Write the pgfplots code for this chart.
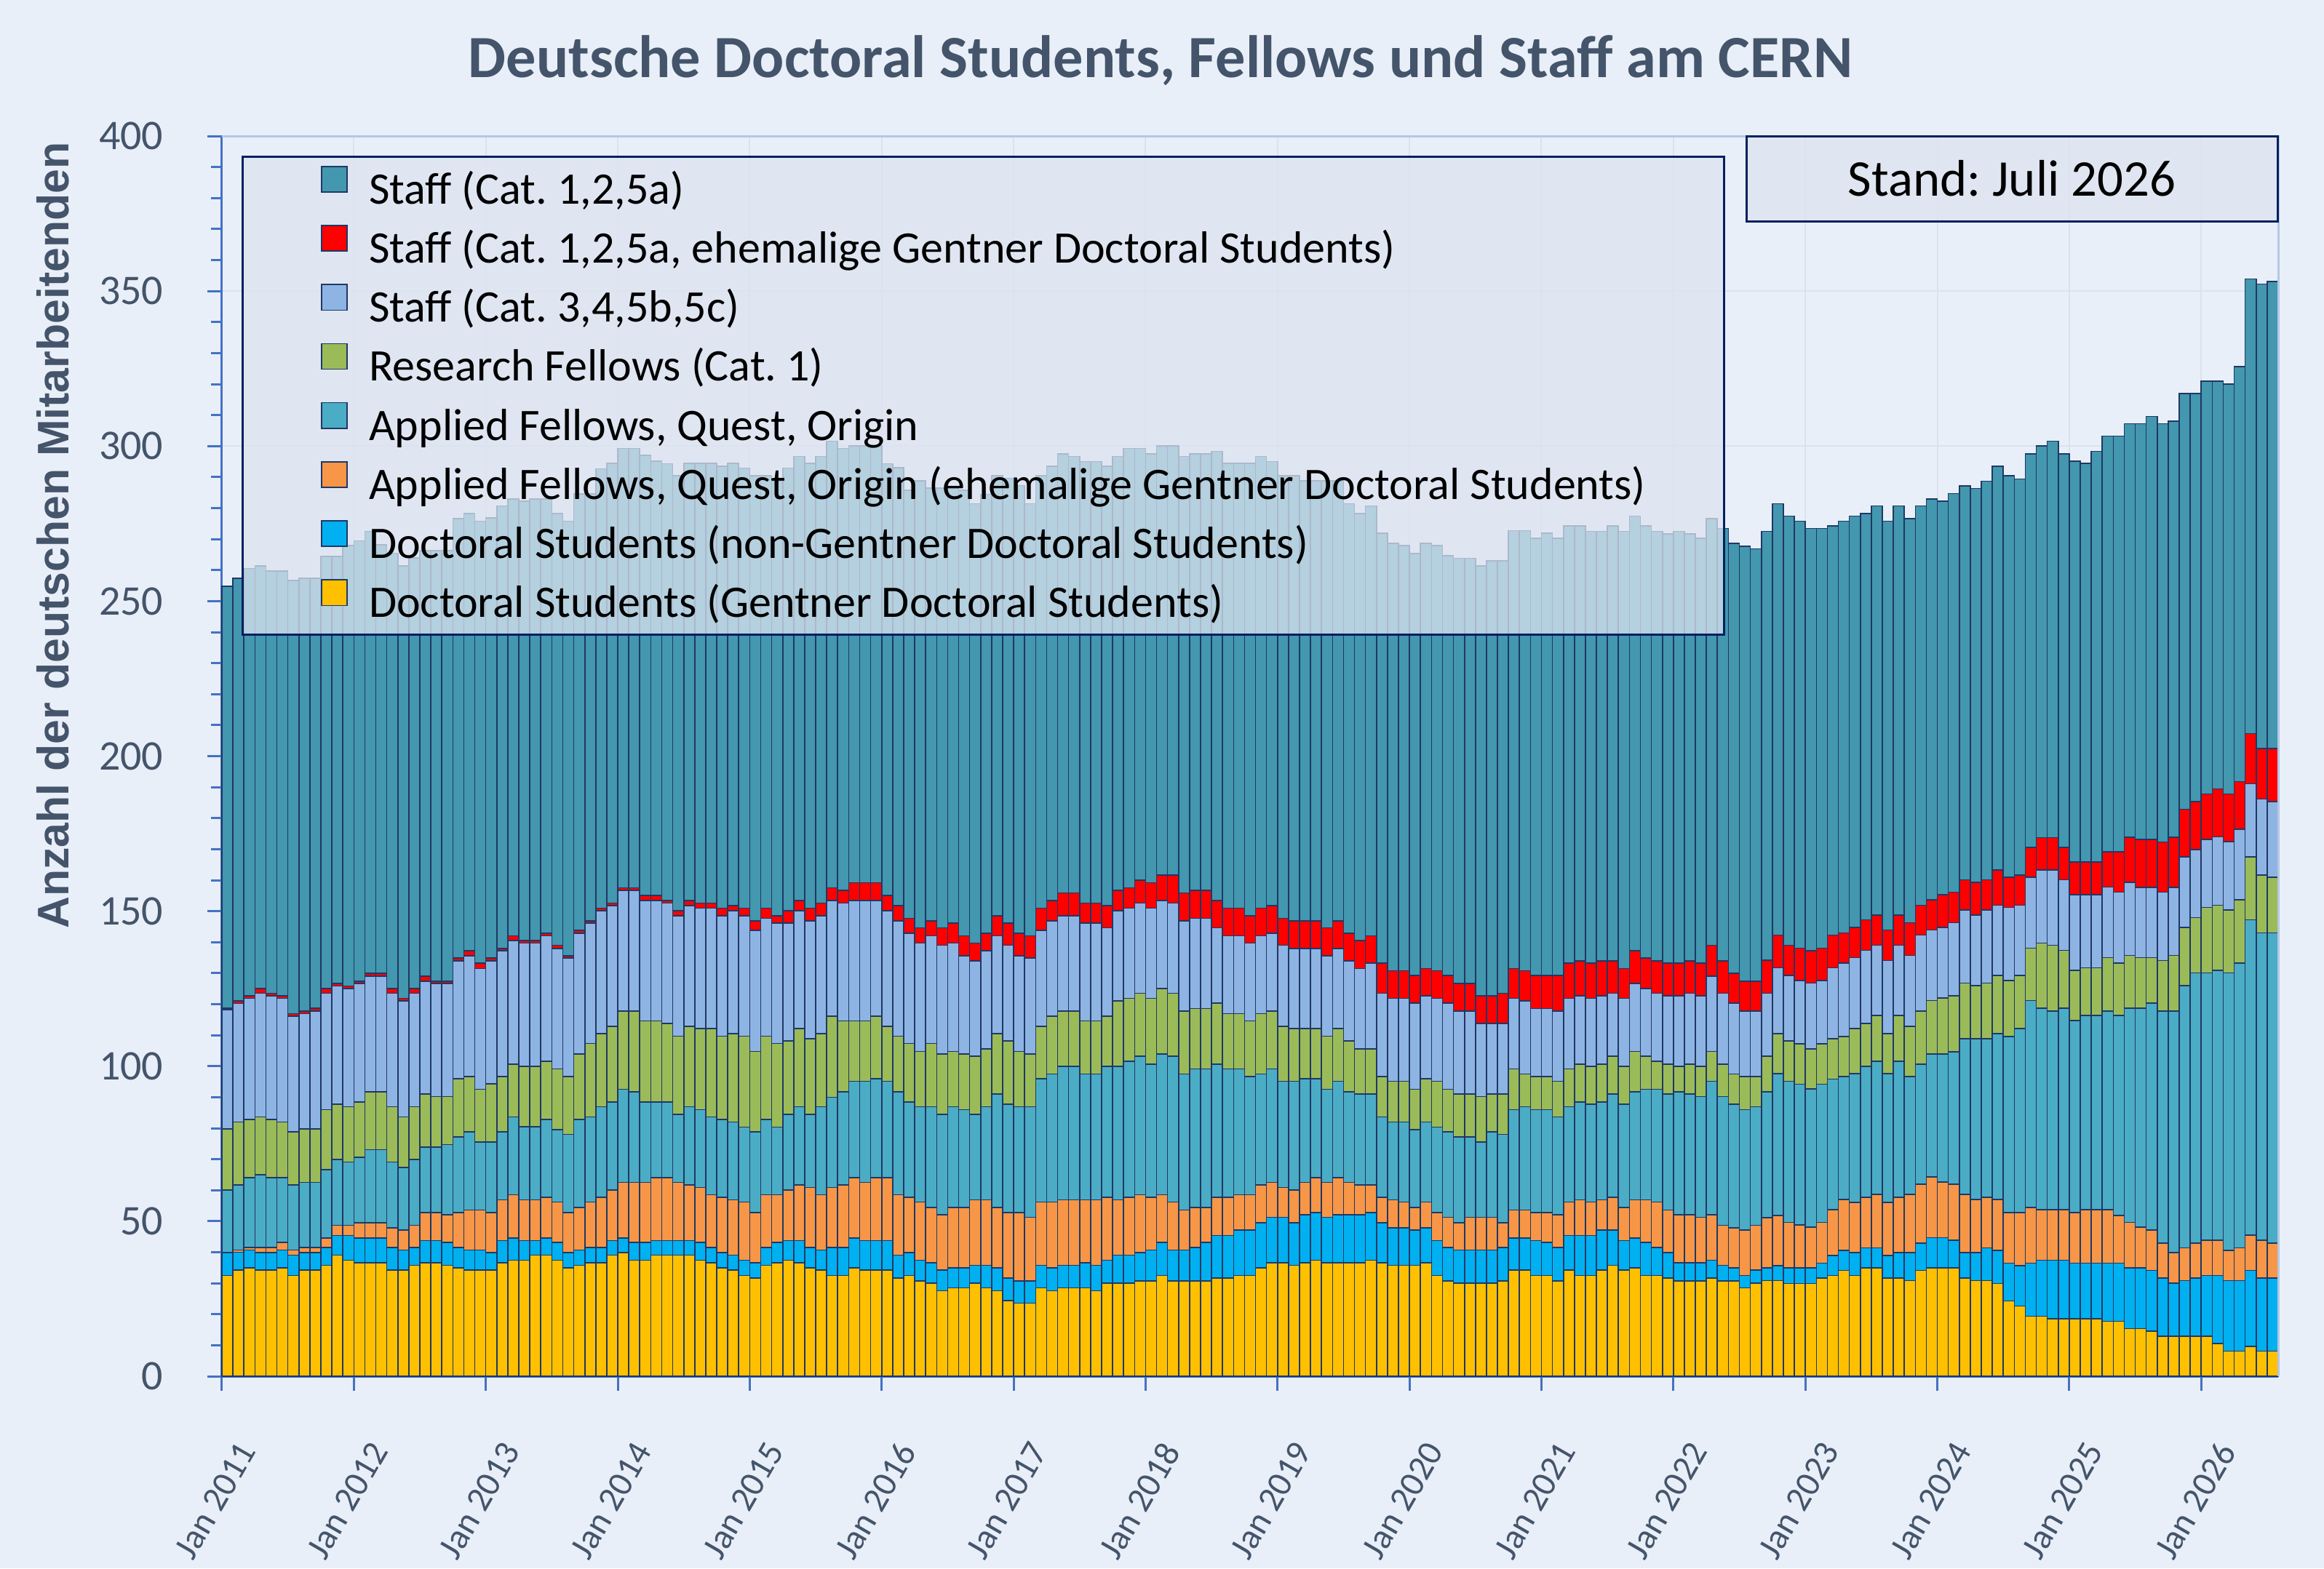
\documentclass[border=0pt]{standalone}
\usepackage{fontspec}
\setmainfont{Carlito}
\newfontfamily\labfont{Liberation Sans}
\usepackage{pgfplots}
\usepackage{pgfplotstable}
\pgfplotsset{compat=1.18}
\frenchspacing

\definecolor{bgc}{RGB}{233,239,248}
\definecolor{gridc}{RGB}{220,226,235}
\definecolor{axisc}{RGB}{68,114,196}
\definecolor{borderc}{RGB}{180,199,231}
\definecolor{txtc}{RGB}{68,84,106}
\definecolor{edgec}{RGB}{31,56,100}
\definecolor{navy}{RGB}{0,32,96}
\definecolor{legfill}{RGB}{220,228,240}
\definecolor{cStaff}{RGB}{67,151,174}
\definecolor{cRed}{RGB}{255,0,0}
\definecolor{cLight}{RGB}{142,180,227}
\definecolor{cGreen}{RGB}{155,187,89}
\definecolor{cApp}{RGB}{75,172,198}
\definecolor{cOrange}{RGB}{247,150,70}
\definecolor{cBlue}{RGB}{0,176,240}
\definecolor{cYellow}{RGB}{255,192,0}

% cumulative tops of the stacked segments (Y=Gentner DS, B=+non-Gentner DS, O=+Applied ehem., A=+Applied, G=+Research, L=+Staff 3/4/5b/5c, R=+Staff ehem., T=total)
\pgfplotstableread{
m Y B O A G L R T
0 32.5 39.9 39.9 60.1 79.7 118.2 118.7 254.8
1 34.2 40.0 40.7 61.7 82.0 120.2 121.1 257.4
2 34.9 40.7 41.5 64.1 82.8 121.9 122.7 260.5
3 34.2 39.9 41.5 65.0 83.6 123.5 125.1 261.3
4 34.2 39.9 41.5 64.1 82.8 122.7 123.5 259.7
5 34.9 40.7 43.1 64.1 82.0 121.9 122.7 259.7
6 32.5 39.1 40.7 61.7 78.8 116.2 117.0 256.6
7 34.2 39.9 41.5 62.5 79.7 117.0 117.8 257.4
8 34.2 39.9 41.5 62.5 79.7 117.8 118.7 257.4
9 35.8 41.5 44.6 66.6 86.0 123.5 125.1 264.4
10 39.1 45.4 48.7 69.9 87.7 125.9 126.7 264.4
11 37.4 45.4 48.7 69.1 86.9 125.1 125.9 267.9
12 36.6 44.6 49.5 70.6 88.5 126.7 127.4 269.4
13 36.6 44.6 49.5 73.1 91.8 129.0 130.0 272.5
14 36.6 44.6 49.5 73.1 91.8 129.0 130.0 268.2
15 34.2 41.5 47.9 69.1 86.9 123.5 125.1 265.5
16 34.2 40.7 47.2 67.4 83.6 121.1 121.9 261.3
17 35.8 41.5 48.7 69.9 86.9 123.5 125.1 264.0
18 36.6 43.8 52.8 73.9 91.0 127.4 129.0 266.3
19 36.6 43.8 52.8 73.9 90.2 126.7 127.4 266.3
20 35.8 43.1 52.1 74.7 90.2 126.7 127.4 266.3
21 34.9 41.5 52.8 77.2 95.9 133.9 134.9 276.6
22 34.2 40.7 53.6 78.8 96.7 135.6 137.2 278.3
23 34.2 40.7 53.6 75.5 92.6 131.5 133.3 275.8
24 34.2 39.9 52.8 75.5 94.3 133.9 134.9 276.8
25 36.6 43.8 56.9 78.8 96.7 137.2 138.0 280.7
26 37.4 44.6 58.5 83.6 100.7 140.5 142.1 283.0
27 37.4 43.8 56.9 80.5 100.0 139.7 140.5 282.2
28 39.1 43.8 56.9 80.5 100.0 139.7 140.5 283.0
29 39.1 44.6 57.7 82.8 101.6 142.1 142.9 283.0
30 37.4 43.1 56.2 79.6 99.1 138.0 139.0 278.3
31 34.9 39.9 52.8 78.0 96.7 134.9 135.6 275.8
32 35.8 40.7 54.4 82.8 104.0 142.9 143.8 284.6
33 36.6 41.5 56.2 83.6 107.3 146.1 146.9 284.6
34 36.6 41.5 57.7 86.9 110.5 150.2 151.0 292.7
35 39.1 43.8 60.1 88.5 112.9 151.8 152.6 294.4
36 39.9 44.6 62.5 92.6 117.8 156.7 157.5 299.2
37 37.4 43.1 62.5 91.8 117.8 156.7 157.5 299.2
38 37.4 43.1 62.5 88.5 114.6 153.4 155.1 297.0
39 39.1 43.8 64.1 88.5 114.6 153.4 155.1 295.2
40 39.1 43.8 64.1 88.5 113.8 152.6 153.4 294.3
41 39.1 43.8 62.5 84.5 109.7 148.5 150.2 290.5
42 39.1 43.8 61.7 86.9 112.9 151.8 153.4 294.4
43 37.4 43.1 60.9 86.0 112.1 151.0 152.6 294.4
44 36.6 41.5 58.5 83.6 112.1 151.0 152.6 294.4
45 34.9 39.9 57.7 82.8 109.7 148.5 151.0 293.5
46 34.2 39.1 56.9 82.0 110.5 150.2 151.8 294.4
47 32.5 37.4 56.2 80.4 109.7 148.5 151.0 292.9
48 31.7 36.6 52.8 78.8 104.8 143.8 146.9 290.5
49 35.8 41.5 58.5 82.8 109.7 147.7 151.0 290.4
50 36.6 43.1 58.5 80.4 107.3 146.1 148.5 288.8
51 37.4 43.8 60.1 84.5 108.1 146.1 150.2 292.9
52 36.6 43.8 61.7 86.9 112.1 150.2 153.4 296.7
53 34.9 41.5 60.9 84.5 108.9 146.9 151.0 294.4
54 34.2 40.7 58.5 86.9 110.5 148.5 152.6 296.7
55 32.5 41.5 60.9 90.0 116.2 153.4 157.5 301.6
56 32.5 41.5 61.7 91.8 114.6 152.6 156.7 299.2
57 34.9 44.6 64.1 95.1 114.6 153.4 159.2 300.0
58 34.2 43.8 62.5 95.1 114.6 153.4 159.2 300.0
59 34.2 43.8 64.1 95.9 116.2 153.4 159.2 300.0
60 34.2 43.8 64.1 95.1 112.9 150.2 155.1 294.3
61 31.7 39.1 58.5 91.8 109.7 146.9 151.8 293.0
62 32.5 39.9 57.7 88.5 107.3 142.9 147.7 285.7
63 30.8 37.4 56.2 86.9 104.8 139.7 144.6 288.8
64 30.0 36.6 54.4 86.9 107.3 142.1 146.9 286.5
65 27.6 34.2 52.1 84.5 104.0 139.0 144.6 286.5
66 28.5 34.9 54.4 86.9 104.8 139.7 146.1 286.5
67 28.5 34.9 54.4 86.0 104.0 135.6 142.1 285.7
68 30.0 35.8 56.9 84.5 103.2 133.9 139.7 281.4
69 28.5 35.8 56.9 86.9 105.6 137.2 142.9 284.5
70 27.6 34.9 54.4 91.0 110.5 142.1 148.5 290.4
71 24.4 31.7 52.8 87.7 108.1 139.0 146.1 289.6
72 23.6 30.8 52.8 86.9 104.8 135.6 142.9 287.3
73 23.6 30.8 51.3 86.9 104.0 134.9 142.1 281.4
74 28.5 35.8 56.2 95.9 112.9 143.8 151.0 290.4
75 27.6 34.9 56.2 97.5 116.2 146.9 153.4 293.5
76 28.5 35.8 56.9 100.0 117.8 148.5 155.9 297.5
77 28.5 35.8 56.9 100.0 117.8 148.5 155.9 296.7
78 28.5 36.6 56.9 97.5 114.6 146.1 152.6 295.0
79 27.6 35.8 56.9 97.5 114.6 146.1 152.6 295.0
80 30.0 37.4 57.7 100.0 116.2 144.6 151.8 293.5
81 30.0 39.1 56.9 100.0 121.1 150.2 156.7 296.7
82 30.0 39.1 57.7 101.6 121.9 151.0 157.5 299.2
83 30.8 39.9 58.5 103.2 123.5 152.6 160.0 299.2
84 30.8 40.7 57.7 100.7 121.9 151.0 159.2 297.5
85 32.5 43.1 58.5 104.0 125.1 153.4 161.6 300.0
86 30.8 40.7 56.2 103.2 123.5 152.6 161.6 300.0
87 30.8 40.7 53.6 97.5 117.8 146.9 155.9 296.7
88 30.8 41.5 54.4 99.1 118.6 147.7 156.7 297.5
89 30.8 43.1 54.4 99.1 118.6 147.7 156.7 297.5
90 31.7 45.4 57.7 100.7 120.3 144.6 153.4 298.3
91 31.7 45.4 57.7 99.1 117.0 142.1 151.0 294.4
92 32.5 47.2 58.5 99.1 117.0 142.1 151.0 294.4
93 32.5 47.2 58.5 96.7 114.6 139.7 148.5 294.4
94 34.9 49.5 61.7 97.5 117.0 142.1 151.0 296.7
95 36.6 51.3 62.5 99.1 117.8 142.9 151.8 295.0
96 36.6 51.3 60.9 95.1 112.9 139.0 147.7 290.4
97 35.8 49.5 60.1 95.1 112.1 138.0 146.9 290.4
98 36.6 52.1 62.5 95.9 112.1 138.0 146.9 288.8
99 37.4 52.8 64.1 95.9 112.1 138.0 146.9 288.8
100 36.6 51.3 62.5 92.6 109.7 135.6 144.6 288.8
101 36.6 52.1 64.1 95.1 112.1 138.0 146.9 288.8
102 36.6 52.1 62.5 91.8 108.1 133.9 142.9 281.4
103 36.6 52.1 61.7 91.0 105.6 131.5 140.5 278.3
104 37.4 52.8 61.7 91.0 105.6 133.3 142.1 280.7
105 36.6 49.5 57.7 83.6 96.7 123.5 133.3 271.9
106 35.8 47.9 56.9 82.0 95.1 121.9 130.8 268.6
107 35.8 47.9 56.2 82.0 95.1 121.9 130.8 267.9
108 35.8 47.2 54.4 79.6 92.6 120.3 129.2 265.4
109 36.6 47.9 56.2 82.0 95.9 122.7 131.5 268.6
110 32.5 43.8 52.8 80.4 95.1 121.9 130.8 267.9
111 30.8 41.5 51.3 78.8 92.6 120.3 129.2 264.6
112 30.0 40.7 49.5 77.2 91.0 117.8 126.7 263.8
113 30.0 40.7 51.3 77.2 91.0 117.8 126.7 263.8
114 30.0 40.7 51.3 75.5 90.2 113.8 122.7 261.4
115 30.0 40.7 51.3 78.8 91.0 113.8 122.7 263.0
116 30.8 41.5 49.5 78.0 91.0 113.8 123.5 263.0
117 34.2 44.6 53.6 86.0 99.1 121.9 131.5 272.7
118 34.2 44.6 53.6 86.9 97.5 121.1 130.8 272.7
119 32.5 43.8 52.8 86.0 96.7 118.6 129.2 270.2
120 32.5 43.1 52.8 86.0 96.7 118.6 129.2 271.9
121 30.8 41.5 52.1 83.6 95.1 117.8 129.2 270.2
122 34.2 45.4 56.2 86.9 99.1 121.9 133.3 274.2
123 32.5 45.4 56.9 88.5 100.7 122.7 133.9 274.2
124 32.5 45.4 56.2 87.7 100.0 121.9 133.3 272.5
125 34.2 47.2 56.9 88.5 100.7 122.7 133.9 272.5
126 35.8 47.2 57.7 91.0 103.2 123.5 133.9 274.2
127 34.2 43.8 54.4 87.7 100.0 121.9 131.5 272.5
128 34.9 44.6 56.9 91.8 104.8 126.7 137.2 277.4
129 32.5 43.1 56.9 92.6 103.2 125.1 134.9 274.2
130 32.5 41.5 56.2 92.6 101.6 123.5 133.9 272.5
131 31.7 39.9 53.6 91.0 100.7 122.7 133.3 271.7
132 30.8 36.6 52.1 91.8 100.0 122.7 133.3 272.5
133 30.8 36.6 52.1 91.0 100.7 123.5 133.9 271.7
134 30.8 36.6 51.3 90.2 100.0 122.7 133.3 270.2
135 31.7 37.4 52.1 95.1 104.8 129.0 139.0 276.6
136 30.8 35.8 48.7 90.2 100.7 123.5 134.0 273.4
137 30.8 34.9 47.9 87.7 97.5 120.3 130.0 268.6
138 28.5 32.5 47.2 86.0 96.7 117.8 127.4 267.7
139 30.0 34.2 48.7 86.9 96.7 117.8 127.4 266.9
140 30.9 35.0 51.2 91.8 103.2 123.5 134.2 272.5
141 30.9 35.7 51.9 97.6 110.5 131.7 142.3 281.4
142 29.9 35.0 49.6 95.1 108.1 129.2 139.0 277.4
143 29.9 35.0 48.8 94.2 107.2 127.6 138.1 275.8
144 29.9 35.0 48.1 92.7 105.6 126.8 137.3 273.4
145 31.7 36.5 49.6 94.2 107.2 127.6 138.1 273.4
146 32.5 39.0 53.7 95.8 108.9 131.7 142.3 274.2
147 34.1 40.6 57.0 96.7 109.6 133.2 143.0 275.8
148 32.5 39.9 56.1 97.6 112.1 135.0 144.7 277.4
149 35.0 41.4 57.7 100.0 113.8 137.4 147.2 278.2
150 35.0 41.4 58.6 101.6 116.3 139.0 148.8 280.7
151 31.7 39.0 56.1 97.6 110.5 134.1 143.9 275.8
152 31.7 39.9 57.7 101.6 116.3 139.0 148.8 280.7
153 30.9 39.9 58.6 96.7 112.9 135.7 146.3 276.6
154 34.1 43.0 61.9 100.7 117.8 142.3 151.9 280.7
155 35.0 44.7 64.3 104.0 121.2 143.9 153.7 283.0
156 35.0 44.7 62.6 104.0 122.0 144.7 155.3 282.2
157 35.0 43.9 61.9 104.7 122.7 146.3 156.1 284.7
158 31.7 39.9 58.6 108.9 126.8 150.4 160.1 287.1
159 30.9 39.9 57.0 108.9 126.0 148.8 159.3 286.3
160 30.9 41.4 57.7 108.9 126.8 150.4 160.1 288.7
161 29.9 40.6 57.0 110.5 129.2 151.9 163.3 293.5
162 24.3 36.5 52.8 109.6 127.6 151.2 161.0 290.4
163 22.6 35.7 52.8 112.1 129.2 151.9 161.7 289.4
164 19.4 36.5 54.5 121.2 138.1 160.9 170.6 297.5
165 19.4 37.4 53.7 118.7 139.7 163.3 173.7 300.0
166 18.6 37.4 53.7 117.8 139.0 163.3 173.7 301.6
167 18.6 37.4 53.7 118.7 137.4 160.1 170.6 297.5
168 18.6 36.5 52.8 114.7 130.9 155.3 165.8 295.2
169 18.6 36.5 53.7 116.3 131.7 155.3 165.8 294.4
170 18.6 36.5 53.7 116.3 131.7 155.3 165.8 298.3
171 17.7 36.5 53.7 117.8 135.0 157.8 169.1 303.2
172 17.7 36.5 51.9 116.3 133.2 156.1 169.1 303.2
173 15.4 35.0 49.6 118.7 135.7 159.3 173.9 307.2
174 15.4 35.0 48.1 118.7 135.0 157.7 173.1 307.2
175 14.5 34.1 47.2 120.3 135.0 157.7 173.1 309.6
176 12.9 31.7 43.0 117.8 134.1 156.1 172.3 307.2
177 12.9 30.1 39.9 117.8 135.7 157.7 173.9 308.0
178 12.9 30.9 41.4 126.0 144.7 167.5 182.9 316.9
179 12.9 31.7 43.0 130.1 147.9 169.9 185.3 316.9
180 12.9 32.5 43.9 130.1 151.2 173.1 187.8 320.9
181 10.5 32.5 43.9 130.9 151.9 174.0 189.4 320.9
182 8.1 30.9 40.6 130.1 150.4 172.4 187.8 320.0
183 8.1 30.9 41.4 133.2 153.7 176.4 191.8 325.7
184 9.6 34.1 45.5 147.2 167.5 191.1 207.3 353.9
185 8.1 31.7 43.9 143.0 161.7 186.2 202.4 352.3
186 8.1 31.7 43.0 143.0 160.9 185.3 202.4 353.1
}\data

\pgfplotsset{
  mybar/.style={fill=#1, draw=edgec, line width=0.4pt, bar shift=0pt, bar width=1,
    legend image code/.code={\draw[fill=#1, draw=edgec, line width=0.4pt] (0pt,0.3pt) rectangle (8.8pt,9.1pt);}},
}

\begin{document}
\begin{tikzpicture}
\fill[bgc] (-76.25pt,-66pt) rectangle (722.25pt,473pt);
\useasboundingbox (-76.25pt,-66pt) rectangle (722.25pt,473pt);
\begin{axis}[
  at={(0pt,0pt)}, anchor=south west,
  scale only axis, width=706.5pt, height=426.25pt,
  xmin=0, xmax=187, ymin=0, ymax=400,
  ybar,
  axis lines=left,
  axis line style={-, draw=axisc, line width=0.75pt},
  xtick={0,12,...,180},
  xticklabels={Jan 2011,Jan 2012,Jan 2013,Jan 2014,Jan 2015,Jan 2016,Jan 2017,Jan 2018,Jan 2019,Jan 2020,Jan 2021,Jan 2022,Jan 2023,Jan 2024,Jan 2025,Jan 2026},
  ytick={0,50,...,400},
  minor y tick num=4,
  tick align=outside,
  major tick length=5pt, minor tick length=3.7pt,
  tick style={draw=axisc, line width=0.75pt},
  xmajorgrids, ymajorgrids,
  major grid style={draw=gridc, line width=0.5pt},
  /pgf/number format/assume math mode=true,
  tick label style={color=txtc},
  yticklabel style={font=\fontsize{14.5}{17}\selectfont, inner sep=0pt, xshift=-15pt},
  xticklabel style={font=\fontsize{12.2}{14}\selectfont, inner sep=0pt, xshift=5.1pt, yshift=-16.5pt, rotate=60, anchor=north east},
  clip=false,
  legend cell align=left,
  legend style={draw=none, fill=none, at={(0.0482,0.976)}, anchor=north west,
    inner sep=0pt, outer sep=0pt,
    font=\fontsize{15.5}{18}\selectfont, row sep=2.6pt,
    nodes={inner sep=1pt, text height=11.2pt, text depth=3.6pt},
    /tikz/every odd column/.append style={column sep=6.25pt}},
]
\addplot[mybar=cStaff] table[x expr=\thisrow{m}+0.5, y=T] {\data};
\addlegendentry{Staff (Cat. 1,2,5a)}
\addplot[mybar=cRed] table[x expr=\thisrow{m}+0.5, y=R] {\data};
\addlegendentry{Staff (Cat. 1,2,5a, ehemalige Gentner Doctoral Students)}
\addplot[mybar=cLight] table[x expr=\thisrow{m}+0.5, y=L] {\data};
\addlegendentry{Staff (Cat. 3,4,5b,5c)}
\addplot[mybar=cGreen] table[x expr=\thisrow{m}+0.5, y=G] {\data};
\addlegendentry{Research Fellows (Cat. 1)}
\addplot[mybar=cApp] table[x expr=\thisrow{m}+0.5, y=A] {\data};
\addlegendentry{Applied Fellows, Quest, Origin}
\addplot[mybar=cOrange] table[x expr=\thisrow{m}+0.5, y=O] {\data};
\addlegendentry{Applied Fellows, Quest, Origin (ehemalige Gentner Doctoral Students)}
\addplot[mybar=cBlue] table[x expr=\thisrow{m}+0.5, y=B] {\data};
\addlegendentry{Doctoral Students (non-Gentner Doctoral Students)}
\addplot[mybar=cYellow] table[x expr=\thisrow{m}+0.5, y=Y] {\data};
\addlegendentry{Doctoral Students (Gentner Doctoral Students)}

\draw[borderc, line width=0.75pt] (rel axis cs:0,1) -- (rel axis cs:1,1) -- (rel axis cs:1,0);
\fill[legfill, fill opacity=0.75] (rel axis cs:0.01026,0.983) rectangle (rel axis cs:0.7304,0.5982);
\draw[navy, line width=0.75pt] (rel axis cs:0.01026,0.983) rectangle (rel axis cs:0.7304,0.5982);
\node[draw=navy, line width=0.75pt, fill=legfill, fill opacity=0.75, text opacity=1,
  minimum width=182.5pt, minimum height=29.25pt, inner sep=0pt,
  font=\fontsize{17.7}{20}\selectfont, text=black] at (rel axis cs:0.8705,0.9657) {Stand: Juli 2026};
\end{axis}
\node[anchor=base, font=\fontsize{20.6}{24}\selectfont\bfseries, text=txtc] at (322.5pt,446.25pt)
  {Deutsche Doctoral Students, Fellows und Staff am CERN};
\node[anchor=base, rotate=90, font=\labfont\bfseries\fontsize{15.2}{18}\selectfont, text=txtc] at (-52.5pt,289pt)
  {Anzahl der deutschen Mitarbeitenden};
\end{tikzpicture}
\end{document}
